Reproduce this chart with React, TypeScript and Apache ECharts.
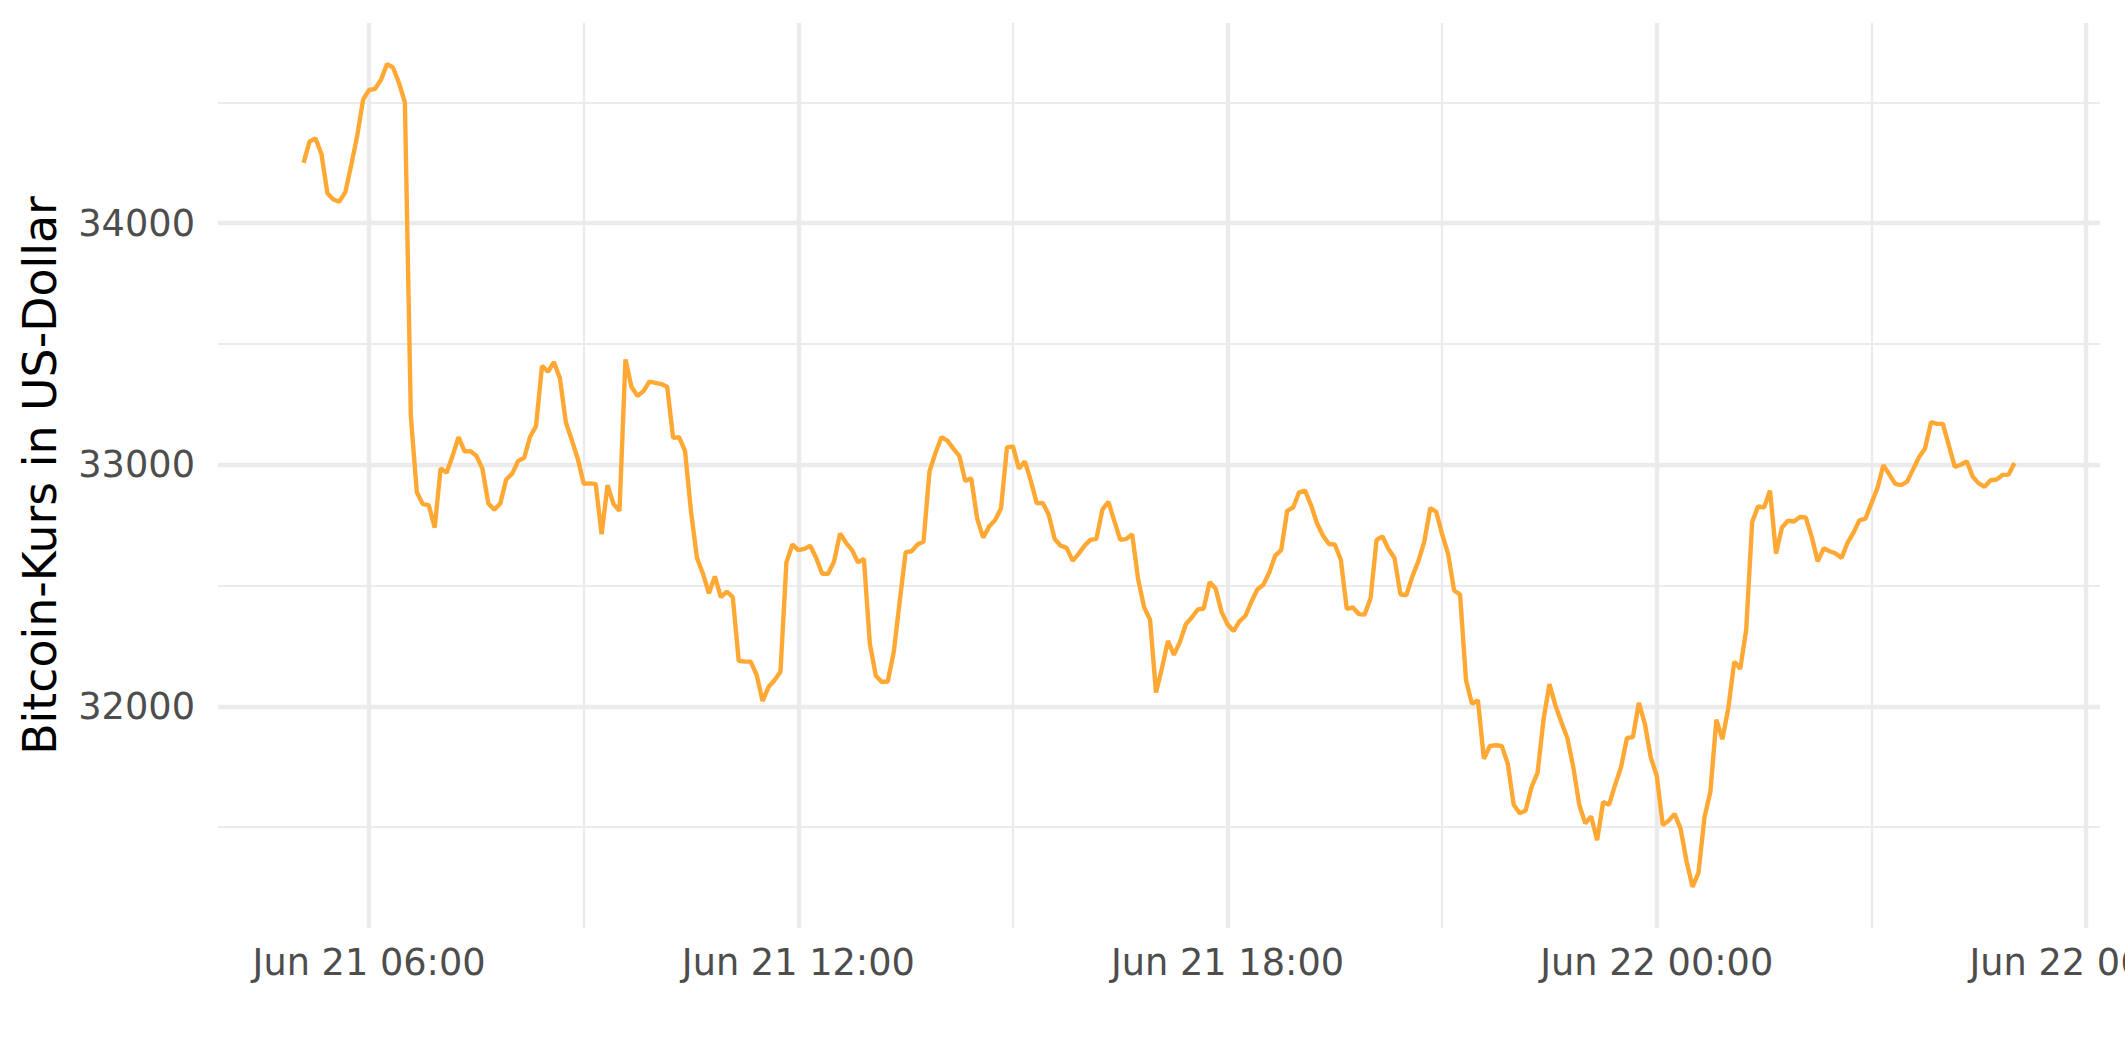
import React, { useEffect, useRef } from "react";
import * as echarts from "echarts";

// Bitcoin price, 5-minute samples starting Jun 21 05:05 (UTC), one row per hour
const startTime = "2021-06-21T05:05:00Z";
const stepMinutes = 5;

const pricesH05 = [34249, 34337, 34351, 34286, 34124, 34098, 34089, 34128, 34240, 34361, 34512];
const pricesH06 = [34551, 34556, 34593, 34658, 34644, 34581, 34500, 33200, 32886, 32837, 32833, 32740];
const pricesH07 = [32986, 32967, 33037, 33114, 33056, 33056, 33037, 32984, 32840, 32814, 32840, 32939];
const pricesH08 = [32963, 33016, 33028, 33116, 33160, 33409, 33385, 33425, 33358, 33176, 33102, 33025];
const pricesH09 = [32921, 32923, 32921, 32712, 32916, 32837, 32809, 33436, 33323, 33285, 33304, 33344];
const pricesH10 = [33339, 33334, 33323, 33111, 33114, 33056, 32805, 32614, 32549, 32468, 32538, 32452];
const pricesH11 = [32475, 32452, 32189, 32185, 32185, 32131, 32022, 32080, 32108, 32143, 32596, 32670];
const pricesH12 = [32647, 32652, 32665, 32614, 32549, 32549, 32600, 32716, 32677, 32647, 32596, 32610];
const pricesH13 = [32259, 32127, 32101, 32103, 32224, 32433, 32638, 32642, 32670, 32682, 32972, 33049];
const pricesH14 = [33114, 33100, 33067, 33037, 32933, 32944, 32777, 32698, 32744, 32770, 32819, 33072];
const pricesH15 = [33076, 32984, 33014, 32933, 32840, 32842, 32793, 32693, 32665, 32656, 32603, 32631];
const pricesH16 = [32665, 32689, 32693, 32814, 32847, 32768, 32689, 32693, 32712, 32526, 32410, 32359];
const pricesH17 = [32057, 32159, 32271, 32213, 32266, 32340, 32368, 32401, 32405, 32515, 32487, 32391];
const pricesH18 = [32340, 32312, 32352, 32375, 32433, 32484, 32503, 32554, 32624, 32647, 32809, 32823];
const pricesH19 = [32886, 32893, 32833, 32758, 32707, 32672, 32670, 32607, 32403, 32410, 32382, 32380];
const pricesH20 = [32449, 32689, 32703, 32651, 32614, 32463, 32461, 32538, 32600, 32682, 32821, 32805];
const pricesH21 = [32712, 32631, 32480, 32463, 32108, 32011, 32025, 31783, 31836, 31839, 31836, 31764];
const pricesH22 = [31593, 31558, 31569, 31667, 31725, 31945, 32092, 32004, 31934, 31869, 31748, 31593];
const pricesH23 = [31516, 31544, 31446, 31604, 31593, 31674, 31748, 31869, 31873, 32015, 31929, 31788];
const pricesH00 = [31713, 31509, 31527, 31555, 31493, 31358, 31253, 31312, 31540, 31648, 31945, 31864];
const pricesH01 = [31992, 32185, 32155, 32317, 32763, 32828, 32823, 32893, 32633, 32740, 32768, 32765];
const pricesH02 = [32784, 32782, 32700, 32600, 32654, 32642, 32633, 32614, 32677, 32719, 32770, 32777];
const pricesH03 = [32840, 32902, 32998, 32960, 32921, 32916, 32930, 32981, 33032, 33067, 33176, 33169];
const pricesH04 = [33169, 33079, 32991, 33000, 33014, 32951, 32923, 32909, 32936, 32939, 32958, 32959];
const pricesH05b = [33007];

const xMajorTicks = [
  "2021-06-21T06:00:00Z",
  "2021-06-21T12:00:00Z",
  "2021-06-21T18:00:00Z",
  "2021-06-22T00:00:00Z",
  "2021-06-22T06:00:00Z",
];
const xMinorTicks = [
  "2021-06-21T09:00:00Z",
  "2021-06-21T15:00:00Z",
  "2021-06-21T21:00:00Z",
  "2021-06-22T03:00:00Z",
];
const yMajorTicks = [32000, 33000, 34000];
const yMinorTicks = [31500, 32500, 33500, 34500];
const monthNames = ["Jan", "Feb", "Mar", "Apr", "May", "Jun", "Jul", "Aug", "Sep", "Oct", "Nov", "Dec"];
const yAxisTitle = "Bitcoin-Kurs in US-Dollar";

const FONT = "DejaVu Sans";

function pad(n: number) {
  return n < 10 ? "0" + n : String(n);
}
function fmtTime(v: number) {
  const d = new Date(v);
  return `${monthNames[d.getUTCMonth()]} ${pad(d.getUTCDate())} ${pad(d.getUTCHours())}:${pad(d.getUTCMinutes())}`;
}

export default function App() {
  const ref = useRef<HTMLDivElement>(null);

  useEffect(() => {
    if (!ref.current) return;
    const chart = echarts.init(ref.current, null, { renderer: "svg" });

    const prices = [
      ...pricesH05, ...pricesH06, ...pricesH07, ...pricesH08, ...pricesH09, ...pricesH10,
      ...pricesH11, ...pricesH12, ...pricesH13, ...pricesH14, ...pricesH15, ...pricesH16,
      ...pricesH17, ...pricesH18, ...pricesH19, ...pricesH20, ...pricesH21, ...pricesH22,
      ...pricesH23, ...pricesH00, ...pricesH01, ...pricesH02, ...pricesH03, ...pricesH04,
      ...pricesH05b,
    ];
    const t0 = Date.parse(startTime);
    const step = stepMinutes * 60 * 1000;
    const data = prices.map((p, i) => [t0 + i * step, p]);

    const tMin = data[0][0];
    const tMax = data[data.length - 1][0];
    const tPad = (tMax - tMin) * 0.05;
    const pMin = Math.min(...prices);
    const pMax = Math.max(...prices);
    const pPad = (pMax - pMin) * 0.05;
    const xMin = tMin - tPad;
    const xMax = tMax + tPad;
    const yMin = pMin - pPad;
    const yMax = pMax + pPad;

    const xMajor = xMajorTicks.map((s) => Date.parse(s));
    const xMinor = xMinorTicks.map((s) => Date.parse(s));

    const grid = "#EBEBEB";

    chart.setOption({
      animation: false,
      backgroundColor: "#FFFFFF",
      grid: {
        left: 218,
        right: 25,
        top: 23,
        bottom: 134,
        containLabel: false,
        outerBoundsMode: "none",
      },
      xAxis: [
        {
          type: "value",
          min: xMin,
          max: xMax,
          axisLine: { show: false },
          axisTick: { show: false, customValues: xMajor },
          axisLabel: {
            customValues: xMajor,
            formatter: (v: number) => fmtTime(v),
            fontFamily: FONT,
            fontSize: 36.7,
            color: "#4D4D4D",
            margin: 16,
          },
          splitLine: { show: true, lineStyle: { color: grid, width: 4.4 } },
        },
        {
          type: "value",
          position: "top",
          min: xMin,
          max: xMax,
          axisLine: { show: false },
          axisTick: { show: false, customValues: xMinor },
          axisLabel: { show: false, customValues: xMinor },
          splitLine: { show: true, lineStyle: { color: grid, width: 2.2 } },
        },
      ],
      yAxis: [
        {
          type: "value",
          min: yMin,
          max: yMax,
          axisLine: { show: false },
          axisTick: { show: false, customValues: yMajorTicks },
          axisLabel: {
            customValues: yMajorTicks,
            formatter: (v: number) => String(Math.round(v)),
            fontFamily: FONT,
            fontSize: 36.7,
            color: "#4D4D4D",
            margin: 23,
          },
          splitLine: { show: true, lineStyle: { color: grid, width: 4.4 } },
          name: yAxisTitle,
          nameLocation: "middle",
          nameRotate: 90,
          nameGap: 155,
          nameTextStyle: { fontFamily: FONT, fontSize: 45.8, color: "#000000" },
        },
        {
          type: "value",
          position: "right",
          min: yMin,
          max: yMax,
          axisLine: { show: false },
          axisTick: { show: false, customValues: yMinorTicks },
          axisLabel: { show: false, customValues: yMinorTicks },
          splitLine: { show: true, lineStyle: { color: grid, width: 2.2 } },
        },
      ],
      series: [
        {
          type: "line",
          xAxisIndex: 0,
          yAxisIndex: 0,
          data,
          showSymbol: false,
          symbol: "none",
          lineStyle: { color: "#FFA834", width: 4.4 },
          z: 5,
        },
      ],
    });

    return () => chart.dispose();
  }, []);

  return (
    <div
      ref={ref}
      style={{ position: "absolute", left: 0, top: 0, width: 2125, height: 1062, background: "#fff" }}
    />
  );
}
